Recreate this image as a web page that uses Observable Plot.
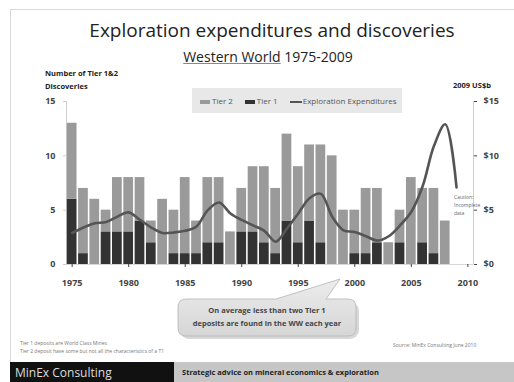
<!DOCTYPE html>
<html><head><meta charset="utf-8">
<script src="https://cdn.jsdelivr.net/npm/d3@7"></script>
<script src="https://cdn.jsdelivr.net/npm/@observablehq/plot@0.6"></script>
<style>
body{margin:0;background:#fff;}
#wrap{position:relative;width:514px;height:382px;overflow:hidden;font-family:"Open Sans",sans-serif;background:#fff;}
.abs{position:absolute;white-space:nowrap;}
#wrap svg.plot{position:absolute;left:0;top:0;}
</style></head><body><div id="wrap"></div>
<script>
// Discoveries (count of deposits) by year
const barYears = [1975,1976,1977,1978,1979,1980,1981,1982,1983,1984,1985,1986,1987,1988,1989,1990,1991,1992,1993,1994,1995,1996,1997,1998,1999,2000,2001,2002,2003,2004,2005,2006,2007,2008];
const tier1 = [6,1,0,3,3,3,4,2,0,1,1,1,2,2,0,3,3,2,1,4,2,4,2,0,0,1,1,2,0,2,0,2,1,0];
const tier2 = [7,6,6,2,5,5,4,2,6,4,7,3,6,6,3,4,6,7,6,8,7,7,9,10,5,4,6,5,2,3,8,5,6,4];
// Exploration expenditures, 2009 US$b
const expYears = [1975,1976,1977,1978,1979,1980,1981,1982,1983,1984,1985,1986,1987,1988,1989,1990,1991,1992,1993,1994,1995,1996,1997,1998,1999,2000,2001,2002,2003,2004,2005,2006,2007,2008,2009];
const expenditure = [2.9,3.4,3.8,3.9,4.4,4.8,4.1,3.4,2.9,2.95,3.1,3.5,5.0,5.7,4.7,4.1,3.6,3.1,2.1,3.3,4.7,6.1,6.5,4.4,3.15,3.0,2.6,2.2,2.6,3.6,4.85,7.2,10.9,12.9,7.1];
const xTicks = [1975,1980,1985,1990,1995,2000,2005,2010];
const yTicks = [0,5,10,15];

const bars = barYears.map((y,i)=>({year:y, t1:tier1[i], t2:tier2[i]}));
const exp = expYears.map((y,i)=>({year:y, v:expenditure[i]}));
const hw = 0.43;

const plot = Plot.plot({
  width:514, height:382,
  marginLeft:66, marginRight:41, marginTop:101, marginBottom:118,
  style:{background:"transparent", overflow:"visible", fontFamily:"'Open Sans',sans-serif"},
  x:{domain:[1974.5,2010.5]},
  y:{domain:[0,15]},
  marks:[
    Plot.ruleY([0],{stroke:"#d8d8d8"}),
    Plot.ruleX([1974.5,2010.5],{y1:0,y2:15,stroke:"#cfcfcf"}),
    Plot.rect(bars,{x1:d=>d.year-hw,x2:d=>d.year+hw,y1:0,y2:d=>d.t1,fill:"#333"}),
    Plot.rect(bars,{x1:d=>d.year-hw,x2:d=>d.year+hw,y1:d=>d.t1,y2:d=>d.t1+d.t2,fill:"#9a9a9a"}),
    Plot.line(exp,{x:"year",y:"v",stroke:"#555",strokeWidth:2.6,curve:"catmull-rom"}),
    Plot.axisY({anchor:"left",ticks:yTicks,tickSize:3,tickPadding:8,fontSize:9,fontWeight:"bold",color:"#444",label:null,stroke:"#ccc"}),
    Plot.axisY({anchor:"right",ticks:yTicks,tickFormat:d=>"$"+d,tickSize:3,tickPadding:7,fontSize:9,fontWeight:"bold",color:"#444",label:null}),
    Plot.axisX({ticks:xTicks,tickFormat:d=>String(d),tickSize:3,tickPadding:12,fontSize:9,fontWeight:"bold",color:"#444",label:null})
  ]
});
plot.classList.add("plot");
const wrap = document.getElementById("wrap");
wrap.appendChild(plot);

function add(html, css){
  const d=document.createElement("div");d.className="abs";d.innerHTML=html;Object.assign(d.style,css);wrap.appendChild(d);return d;
}
// frame
add("",{left:"10px",top:"9px",width:"520px",height:"400px",border:"1px solid #d9d9d9",boxSizing:"border-box"});
// title
add("Exploration expenditures and discoveries",{left:"0",width:"544px",textAlign:"center",top:"17px",fontSize:"19px",color:"#222",fontFamily:"'Open Sans',sans-serif"});
add("<span style='text-decoration:underline;text-decoration-color:#888'>Western World</span> 1975-2009",{left:"0",width:"536px",textAlign:"center",top:"47px",fontSize:"14px",color:"#222"});
// axis titles
add("Number of Tier 1&amp;2<br>Discoveries",{left:"45px",top:"67px",fontSize:"7.5px",fontWeight:"bold",lineHeight:"13px",color:"#222"});
add("2009 US$b",{left:"453px",top:"80px",fontSize:"7.5px",fontWeight:"bold",color:"#222"});
// legend
add(`<span style="display:inline-block;width:10px;height:4px;background:#9a9a9a;vertical-align:middle"></span><span style="margin:0 12px 0 2px">Tier 2</span><span style="display:inline-block;width:10px;height:4px;background:#333;vertical-align:middle"></span><span style="margin:0 12px 0 2px">Tier 1</span><span style="display:inline-block;width:12px;height:2px;background:#555;vertical-align:middle"></span><span style="margin-left:1px">Exploration Expenditures</span>`,
 {left:"192px",top:"88px",width:"210px",height:"25px",background:"#e8e8e8",fontSize:"8px",color:"#555",lineHeight:"25px",paddingLeft:"8px",boxSizing:"border-box"});
// caution
add("Caution:<br>Incomplete<br>data",{left:"454px",top:"193px",fontSize:"5px",lineHeight:"8px",color:"#666"});
// callout
const ns="http://www.w3.org/2000/svg";
const cs=document.createElementNS(ns,"svg");
cs.setAttribute("width","514");cs.setAttribute("height","382");
cs.style.position="absolute";cs.style.left="0";cs.style.top="0";
cs.innerHTML=`<defs><linearGradient id="g" x1="0" y1="0" x2="0" y2="1"><stop offset="0" stop-color="#ececec"/><stop offset="1" stop-color="#d6d6d6"/></linearGradient></defs>
<rect x="180" y="302" width="179" height="37" rx="9" fill="#c8c8c8" opacity="0.7"/>
<path d="M186 299 H276 L340 279 L326 299 H348 Q356 299 356 307 V328 Q356 336 348 336 H186 Q178 336 178 328 V307 Q178 299 186 299 Z" fill="url(#g)" stroke="#b5b5b5" stroke-width="0.8"/>`;
wrap.appendChild(cs);
add("On average less than two Tier 1<br>deposits are found in the WW each year",{left:"178px",width:"178px",top:"304px",textAlign:"center",fontSize:"7.5px",fontWeight:"bold",lineHeight:"13px",color:"#444"});
// footnotes
add("Tier 1 deposits are World Class Mines<br>Tier 2 deposit have some but not all the characteristics of a T1",{left:"20px",top:"339px",fontSize:"5px",lineHeight:"8px",color:"#777"});
add("Source: MinEx Consulting June 2010",{left:"393px",top:"342px",fontSize:"5px",color:"#777"});
// footer
add("",{left:"174px",top:"362px",width:"340px",height:"20px",background:"#c6c6c6"});
add("MinEx Consulting",{left:"10px",top:"362px",width:"164px",height:"20px",background:"#111",color:"#ddd",fontSize:"12px",lineHeight:"22px",paddingLeft:"5px",boxSizing:"border-box"});
add("Strategic advice on mineral economics &amp; exploration",{left:"182px",top:"362px",height:"20px",lineHeight:"20px",fontSize:"7.5px",fontWeight:"bold",color:"#222"});
</script></body></html>
